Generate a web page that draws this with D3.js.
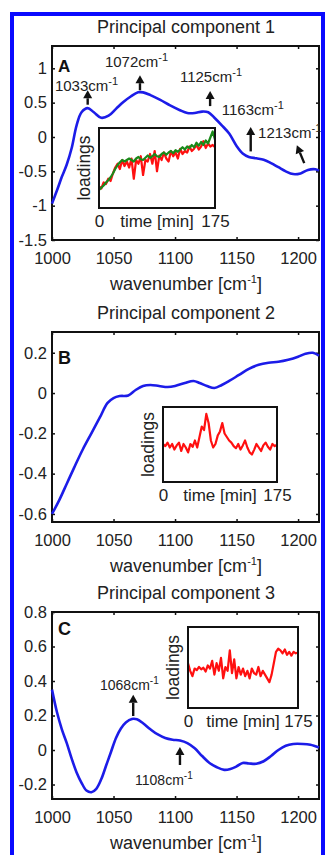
<!DOCTYPE html>
<html>
<head>
<meta charset="utf-8">
<script src="https://cdn.jsdelivr.net/npm/d3@7"></script>
<style>
body{margin:0;background:#fff}
svg{display:block}
text{font-family:"Liberation Sans",Arial,sans-serif;fill:#222}
</style>
</head>
<body>
<script>
// spectra (wavenumber in cm-1, loading)
var pc1Wave = [1000,1004,1008,1012,1016,1020,1024,1029,1034,1040,1046,1052,1058,1064,1070,1074,1080,1088,1096,1104,1110,1116,1122,1127,1132,1138,1144,1150,1155,1160,1166,1172,1178,1184,1190,1196,1202,1208,1214,1217]
var pc1Load = [-0.97,-0.78,-0.58,-0.40,-0.16,0.17,0.36,0.42,0.36,0.28,0.31,0.41,0.51,0.59,0.65,0.65,0.61,0.54,0.46,0.39,0.35,0.35,0.37,0.36,0.28,0.17,0.05,-0.13,-0.24,-0.29,-0.31,-0.33,-0.38,-0.44,-0.50,-0.54,-0.53,-0.48,-0.47,-0.49]

var pc2Wave = [1000,1006,1012,1018,1025,1032,1039,1045,1050,1055,1062,1068,1074,1080,1087,1094,1100,1108,1115,1120,1126,1132,1138,1144,1152,1160,1168,1176,1184,1192,1200,1206,1212,1217]
var pc2Load = [-0.6,-0.53,-0.45,-0.37,-0.28,-0.2,-0.12,-0.05,-0.025,-0.015,-0.012,0.015,0.035,0.04,0.035,0.03,0.035,0.05,0.06,0.05,0.035,0.025,0.04,0.06,0.09,0.12,0.14,0.15,0.155,0.165,0.18,0.195,0.2,0.185]

var pc3Wave = [1000,1004,1008,1012,1016,1020,1024,1028,1032,1036,1040,1044,1048,1052,1056,1060,1065,1069,1074,1080,1086,1092,1098,1104,1110,1116,1122,1128,1134,1140,1145,1150,1155,1160,1166,1172,1178,1184,1190,1196,1204,1210,1217]
var pc3Load = [0.35,0.22,0.12,0.04,-0.05,-0.13,-0.19,-0.235,-0.245,-0.225,-0.17,-0.09,-0.01,0.07,0.125,0.16,0.18,0.178,0.155,0.12,0.09,0.07,0.06,0.055,0.04,0.01,-0.035,-0.075,-0.1,-0.115,-0.11,-0.095,-0.075,-0.078,-0.08,-0.065,-0.035,0.0,0.025,0.035,0.035,0.03,0.015]

// inset time courses (minutes, scaled loadings)
var sampleTimes = [0,3.5,7,10.5,14,17.5,21,24.5,28,31.5,35,38.5,42,45.5,49,52.5,56,59.5,63,66.5,70,73.5,77,80.5,84,87.5,91,94.5,98,101.5,105,108.5,112,115.5,119,122.5,126,129.5,133,136.5,140,143.5,147,150.5,154,157.5,161,164.5,168,171.5,175]
var pc1TimeRed = [0.25,0.22,0.3,0.28,0.35,0.32,0.42,0.5,0.55,0.48,0.6,0.52,0.58,0.5,0.62,0.35,0.6,0.55,0.65,0.4,0.6,0.58,0.68,0.55,0.72,0.45,0.66,0.6,0.7,0.62,0.58,0.72,0.65,0.7,0.62,0.75,0.68,0.72,0.7,0.78,0.72,0.75,0.8,0.74,0.78,0.85,0.76,0.82,0.78,0.8,0.77]
var pc1TimeGreen = [0.2,0.23,0.26,0.3,0.33,0.37,0.42,0.48,0.53,0.57,0.6,0.58,0.6,0.62,0.6,0.58,0.62,0.64,0.61,0.6,0.63,0.66,0.63,0.65,0.68,0.65,0.64,0.68,0.7,0.67,0.7,0.72,0.69,0.73,0.71,0.74,0.77,0.74,0.78,0.76,0.8,0.77,0.83,0.79,0.84,0.8,0.86,0.82,0.9,0.98,0.87]
var pc2TimeRed = [0.5,0.47,0.52,0.45,0.5,0.42,0.48,0.52,0.4,0.5,0.45,0.38,0.5,0.46,0.55,0.45,0.6,0.75,0.7,0.93,0.8,0.55,0.45,0.5,0.62,0.68,0.8,0.65,0.6,0.55,0.52,0.47,0.44,0.5,0.42,0.48,0.55,0.45,0.38,0.35,0.42,0.5,0.45,0.4,0.48,0.52,0.46,0.42,0.5,0.47,0.49]
var pc3TimeRed = [0.55,0.45,0.38,0.48,0.46,0.5,0.47,0.49,0.44,0.52,0.48,0.58,0.4,0.55,0.45,0.62,0.35,0.5,0.45,0.72,0.42,0.6,0.35,0.5,0.4,0.48,0.38,0.45,0.35,0.48,0.42,0.4,0.5,0.38,0.45,0.4,0.35,0.3,0.4,0.55,0.7,0.74,0.72,0.68,0.73,0.66,0.7,0.65,0.7,0.68,0.69]

// ticks
var xTicks = [1000,1050,1100,1150,1200]
var yTicksA = [-1.5,-1,-0.5,0,0.5,1]
var yLabelsA = ["-1.5","-1","-0.5","0","0.5","1"]
var yTicksB = [-0.6,-0.4,-0.2,0,0.2]
var yLabelsB = ["-0.6","-0.4","-0.2","0","0.2"]
var yTicksC = [-0.2,0,0.2,0.4,0.6,0.8]
var yLabelsC = ["-0.2","0","0.2","0.4","0.6","0.8"]
var insetTicks = [0,175]

// peak annotations
var peaksA = ["1033","1072","1125","1163","1213"]
var peaksC = ["1068","1108"]

var width = 325
var height = 855
var svg = d3.select("body").append("svg")
    .attr("width", width)
    .attr("height", height)

var x = d3.scaleLinear().domain([1000, 1217]).range([52, 319])

function drawPanel(title, letter, top, bottom, yDomain, ticks, labels, wave, load){
    var y = d3.scaleLinear().domain(yDomain).range([bottom, top])
    var g = svg.append("g")

    g.append("text").text(title)
        .attr("x", 186).attr("y", top - 13)
        .attr("text-anchor","middle")
        .style("font-size","18px")

    // ticks on all four sides, pointing in
    var bx = g.append("g").attr("transform","translate(0,"+bottom+")")
        .call(d3.axisBottom(x).tickValues(xTicks).tickSize(-3).tickFormat(d3.format("d")))
    bx.selectAll("text").attr("y", 24).attr("dy", null).style("font-size","16.5px")
    g.append("g").attr("transform","translate(0,"+top+")")
        .call(d3.axisTop(x).tickValues(xTicks).tickSize(-3).tickFormat(""))
    var ly = g.append("g").attr("transform","translate(52,0)")
        .call(d3.axisLeft(y).tickValues(ticks).tickSize(-3).tickPadding(5)
            .tickFormat(function(d,i){ return labels[i] }))
    ly.selectAll("text").style("font-size","16.5px")
    g.append("g").attr("transform","translate(319,0)")
        .call(d3.axisRight(y).tickValues(ticks).tickSize(-3).tickFormat(""))
    g.selectAll(".domain").remove()
    g.selectAll(".tick line").attr("stroke","#111").attr("stroke-width",1.5)

    g.append("rect")
        .attr("x",52).attr("y",top)
        .attr("width",319-52).attr("height",bottom-top)
        .attr("fill","none").attr("stroke","#111").attr("stroke-width",2)

    var xl = g.append("text")
        .attr("x",186).attr("y",bottom+50)
        .attr("text-anchor","middle")
        .style("font-size","18px")
    xl.append("tspan").text("wavenumber [cm")
    xl.append("tspan").text("-1").attr("dy",-7).style("font-size","11px")
    xl.append("tspan").text("]").attr("dy",7)

    var pts = wave.map(function(w,i){ return [w, load[i]] })
    g.append("path")
        .datum(pts)
        .attr("d", d3.line().curve(d3.curveCatmullRom)
            .x(function(d){ return x(d[0]) })
            .y(function(d){ return y(d[1]) }))
        .attr("fill","none")
        .attr("stroke","#1c1ce8")
        .attr("stroke-width",2.6)

    g.append("text").text(letter)
        .attr("x",58).attr("y",top+ (letter=="C" ? 23 : (letter=="A" ? 26 : 32)))
        .style("font-size", letter=="A" ? "17px" : "18px").style("font-weight","bold").style("fill","#111")
    return y
}

function drawInset(left, right, top, bottom, series, colors){
    var tx = d3.scaleLinear().domain([0,175]).range([left,right])
    var ty = d3.scaleLinear().domain([0,1]).range([bottom-3,top+2])
    var g = svg.append("g")
    g.append("rect").attr("x",left).attr("y",top)
        .attr("width",right-left).attr("height",bottom-top)
        .attr("fill","#fff")
    var line = d3.line()
        .x(function(d){ return tx(d[0]) })
        .y(function(d){ return ty(d[1]) })
    series.forEach(function(s,k){
        g.append("path")
            .datum(sampleTimes.map(function(t,i){ return [t, s[i]] }))
            .attr("d", line)
            .attr("fill","none")
            .attr("stroke",colors[k])
            .attr("stroke-width",2.2)
            .attr("stroke-linejoin","round")
    })
    g.append("rect").attr("x",left).attr("y",top)
        .attr("width",right-left).attr("height",bottom-top)
        .attr("fill","none").attr("stroke","#111").attr("stroke-width",2)

    var ax = g.append("g").attr("transform","translate(0,"+bottom+")")
        .call(d3.axisBottom(tx).tickValues(insetTicks).tickSize(0))
    ax.select(".domain").remove()
    ax.selectAll("text").attr("y",19).attr("dy",null).style("font-size","17px")
    g.append("text").text("time [min]")
        .attr("x",(left+right)/2).attr("y",bottom+19)
        .attr("text-anchor","middle").style("font-size","17px")
    g.append("text").text("loadings")
        .attr("transform","translate("+(left-9)+","+((top+bottom)/2)+") rotate(-90)")
        .attr("text-anchor","middle").style("font-size","17.5px")
}

function drawArrow(x1,y1,x2,y2){
    var dx = x2-x1, dy = y2-y1
    var len = Math.sqrt(dx*dx+dy*dy)
    var ux = dx/len, uy = dy/len
    var hl = 8, hw = 4.5
    var bx = x2-ux*hl, by = y2-uy*hl
    svg.append("line")
        .attr("x1",x1).attr("y1",y1).attr("x2",bx).attr("y2",by)
        .attr("stroke","#111").attr("stroke-width",2.4)
    svg.append("path")
        .attr("d","M"+x2+","+y2+"L"+(bx-uy*hw)+","+(by+ux*hw)+"L"+(bx+uy*hw)+","+(by-ux*hw)+"Z")
        .attr("fill","#111")
}

function peakLabel(txt, px, py, size){
    var t = svg.append("text").attr("x",px).attr("y",py).style("font-size",size+"px")
    t.append("tspan").text(txt+"cm")
    t.append("tspan").text("-1").attr("dy",-6).style("font-size",(size-4)+"px")
}

var yA = drawPanel("Principal component 1","A",46,240,[-1.5,1.325],yTicksA,yLabelsA,pc1Wave,pc1Load)
var yB = drawPanel("Principal component 2","B",332,522,[-0.64,0.303],yTicksB,yLabelsB,pc2Wave,pc2Load)
var yC = drawPanel("Principal component 3","C",612,799,[-0.284,0.8],yTicksC,yLabelsC,pc3Wave,pc3Load)

// arrows panel A (tail wavenumber, tail value, tip wavenumber, tip value)
drawArrow(x(1029),yA(0.47),x(1029),yA(0.68))
drawArrow(x(1071.5),yA(0.68),x(1071.5),yA(0.90))
drawArrow(x(1128.5),yA(0.45),x(1128.5),yA(0.67))
drawArrow(x(1161.5),yA(-0.21),x(1161.5),yA(0.146))
drawArrow(x(1205),yA(-0.38),x(1199),yA(-0.12))
peakLabel(peaksA[0], x(1002.4), yA(0.67), 15)
peakLabel(peaksA[1], x(1043), yA(1.02), 15)
peakLabel(peaksA[2], x(1104), yA(0.80), 15)
peakLabel(peaksA[3], x(1138), yA(0.32), 15)
peakLabel(peaksA[4], x(1167.5), yA(-0.015), 15)

drawArrow(x(1066),yC(0.197),x(1066),yC(0.32))
drawArrow(x(1104),yC(-0.087),x(1104),yC(0.017))
peakLabel(peaksC[0], x(1039), yC(0.348), 14)
peakLabel(peaksC[1], x(1067.5), yC(-0.203), 14)

drawInset(99,215,128,208,[pc1TimeRed,pc1TimeGreen],["#ff1010","#1a8a1a"])
drawInset(163,277,407,482,[pc2TimeRed],["#ff1010"])
drawInset(188,298,627,708,[pc3TimeRed],["#ff1010"])

// blue frame around the figure
svg.append("rect")
    .attr("x",12).attr("y",14)
    .attr("width",311).attr("height",900)
    .attr("fill","none")
    .attr("stroke","#0a0aff")
    .attr("stroke-width",4)
</script>
</body>
</html>
